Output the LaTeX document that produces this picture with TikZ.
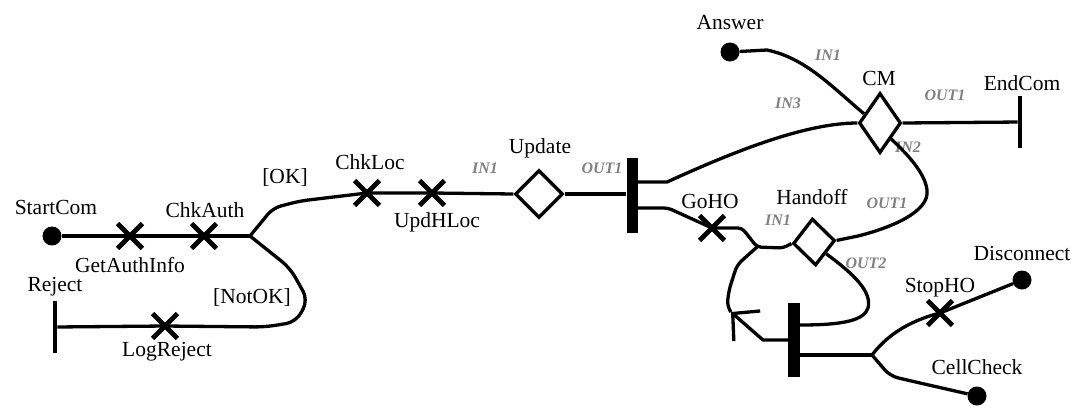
\documentclass[tikz,border=0pt]{standalone}
\usepackage{fontspec}
\setmainfont{Liberation Serif}
\usetikzlibrary{shapes.geometric,shapes.misc,arrows.meta}
\tikzset{
	ucm/.style={line width=3.3pt, line join=round},
	startpt/.style={circle, fill, inner sep=0pt, minimum size=19pt},
	resp/.style={cross out, draw, line width=4.8pt, minimum size=20pt, inner sep=0pt},
	stub/.style={diamond, draw, line width=3.3pt, inner sep=0pt},
	ucmbar/.style={rectangle, fill, inner sep=0pt, minimum width=11pt, minimum height=75pt},
	endbar/.style={rectangle, fill, inner sep=0pt, minimum width=4.5pt, minimum height=52pt},
	lbl/.style={font=\fontsize{21.5}{22}\selectfont, inner sep=0pt},
	port/.style={font=\fontsize{16}{16}\selectfont\bfseries\itshape, text=gray, inner sep=0pt}
}
\begin{document}
\begin{tikzpicture}[x=1pt,y=-1pt]
\useasboundingbox (0,0) rectangle (1075,408);
% start points, ends, responsibilities
\node[startpt] (startcom) at (52,236) {};
\node[resp] (getauthinfo) at (130,236) {};
\node[resp] (chkauth) at (204,236) {};
\coordinate (fork1) at (250,236);
\node[resp] (chkloc) at (367,193) {};
\node[resp] (updhloc) at (432,193) {};
\node[resp] (logreject) at (165,326) {};
\node[endbar] (reject) at (55,327) {};
\node[stub, minimum width=48pt, minimum height=48pt] (update) at (539,194) {};
\node[ucmbar] (bar1) at (632,195) {};
\node[resp] (goho) at (712,228) {};
\coordinate (jn) at (757,247);
\node[stub, minimum width=42pt, minimum height=60pt] (cm) at (880,123) {};
\node[startpt] (answer) at (730,52) {};
\node[endbar] (endcom) at (1020,122) {};
\node[stub, minimum width=42pt, minimum height=47pt, rotate=4] (handoff) at (814,242) {};
\node[ucmbar, minimum height=74pt, minimum width=12pt] (bar2) at (794,340) {};
\coordinate (looptip) at (731,312);
\coordinate (fork2) at (872,355);
\node[resp] (stopho) at (940,313) {};
\node[startpt] (disconnect) at (1022,280) {};
\node[startpt] (cellcheck) at (977,396) {};
% labels
\node[lbl] (tstartcom) at (56,207) {StartCom};
\node[lbl] (tgetauthinfo) at (130,265) {GetAuthInfo};
\node[lbl] (tchkauth) at (205,210) {ChkAuth};
\node[lbl] (tok) at (285,177) {[OK]};
\node[lbl] (tnotok) at (252,297) {[NotOK]};
\node[lbl] (treject) at (55,287) {Reject};
\node[lbl] (tlogreject) at (167,352) {LogReject};
\node[lbl] (tchkloc) at (370,162) {ChkLoc};
\node[lbl] (tupdhloc) at (437,222) {UpdHLoc};
\node[lbl] (tupdate) at (540,148) {Update};
\node[lbl] (tgoho) at (710,201) {GoHO};
\node[lbl] (tcm) at (879,78) {CM};
\node[lbl] (tanswer) at (730,23) {Answer};
\node[lbl] (tendcom) at (1022,83) {EndCom};
\node[lbl] (thandoff) at (812,197) {Handoff};
\node[lbl] (tstopho) at (940,288) {StopHO};
\node[lbl] (tdisconnect) at (1022,253) {Disconnect};
\node[lbl] (tcellcheck) at (977,367) {CellCheck};
% stub ports
\node[port] (pupdin) at (485,168) {IN1};
\node[port] (pupdout) at (602,168) {OUT1};
\node[port] (pcmin1) at (828,55) {IN1};
\node[port] (pcmin3) at (788,103) {IN3};
\node[port] (pcmout) at (945,95) {OUT1};
\node[port] (pcmin2) at (908,147) {IN2};
\node[port] (phoin) at (778,220) {IN1};
\node[port] (phoout1) at (887,203) {OUT1};
\node[port] (phoout2) at (866,263) {OUT2};
% paths
\draw[ucm] (startcom) -- (getauthinfo.center) -- (chkauth.center) -- (fork1);
\draw[ucm, rounded corners=8pt] (fork1) -- (273,208) -- (300,201) -- (chkloc.center) -- (updhloc.center) -- (update.west);
\draw[ucm, rounded corners=10pt] (fork1) -- (290,268) -- (308,300) -- (296,322) -- (265,327) -- (logreject.center) -- (reject);
\draw[ucm] (update.east) -- (bar1.west |- update.east);
\draw[ucm] ([yshift=13pt]bar1.east) -- (667,182) .. controls (720,158) and (800,123) .. (cm.west);
\draw[ucm, rounded corners=4pt] ([yshift=-13pt]bar1.east) -- (668,208) -- (goho.center) -- (742,228) -- (jn) -- (783,248) -- (handoff.west);
\draw[ucm] (answer) -- (767,50) .. controls (805,58) and (830,85) .. (cm.150);
\draw[ucm] (cm.east) -- (endcom);
\draw[ucm] (handoff.east) -- (858,236) .. controls (890,228) and (930,212) .. (927,190) .. controls (925,172) and (905,152) .. (cm.-55);
\draw[ucm] (handoff.south east) .. controls (855,275) and (872,292) .. (868,308) .. controls (864,320) and (845,325) .. ([yshift=15pt]bar2.east);
\draw[ucm, -{Straight Barb[length=19pt, width=40pt]}] (bar2.west) -- (763,340) -- (looptip);
\draw[ucm, rounded corners=6pt] (looptip) -- (727,306) -- (729,290) -- (737,265) -- (jn);
\draw[ucm] ([yshift=-15pt]bar2.east) -- (fork2);
\draw[ucm] (fork2) .. controls (885,338) and (905,322) .. (stopho.center) -- (disconnect);
\draw[ucm, rounded corners=8pt] (fork2) -- (890,376) -- (920,383) -- (cellcheck);
\end{tikzpicture}
\end{document}
